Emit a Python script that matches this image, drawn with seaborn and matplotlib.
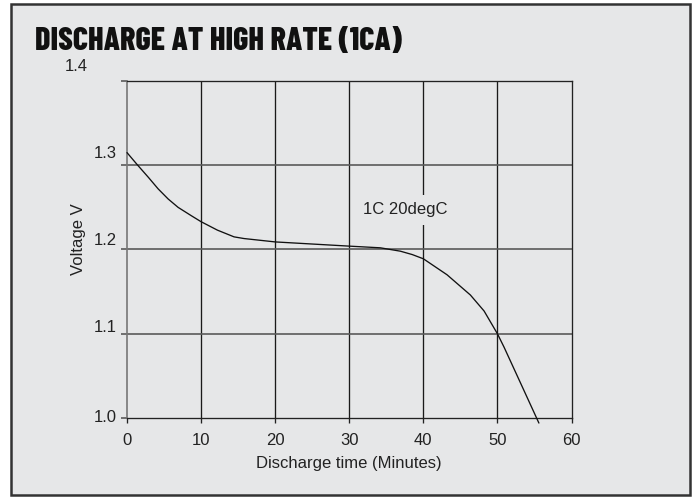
import matplotlib
matplotlib.use("Agg")
import matplotlib.pyplot as plt
import matplotlib.transforms as mtransforms
from matplotlib.patches import Rectangle
import seaborn as sns
import pandas as pd

# discharge curve
time_min = [0, 1.35, 2.9, 4.2, 5.55, 6.9, 8.7, 10.0, 12.2, 14.45, 15.8, 20, 26, 30, 34.2, 36.9,
            38.5, 40, 43.2, 46.35, 48.2, 50, 50.9, 53.2, 55.6]
voltage = [1.315, 1.301, 1.2855, 1.272, 1.260, 1.250, 1.240, 1.233, 1.223, 1.215, 1.213, 1.209,
           1.206, 1.204, 1.202, 1.198, 1.194, 1.189, 1.170, 1.146, 1.127, 1.100, 1.084, 1.040, 0.994]
x_ticks = [0, 10, 20, 30, 40, 50, 60]
y_ticks = [1.0, 1.1, 1.2, 1.3, 1.4]
y_tick_labels = ["1.0", "1.1", "1.2", "1.3", "1.4"]

df = pd.DataFrame({"time": time_min, "volt": voltage})

sns.set_theme(style="white")
plt.rcParams['font.family'] = ['Liberation Sans', 'DejaVu Sans']

panel = "#e6e7e8"
fig = plt.figure(figsize=(6.98, 4.99), dpi=100)
fig.patch.set_facecolor("white")
fig.patches.append(Rectangle((11 / 698, 4 / 499), 679 / 698, 491 / 499, transform=fig.transFigure,
                             facecolor=panel, edgecolor="#333333", linewidth=1.8, zorder=-10))

ax = fig.add_axes([127 / 698, 1 - 418 / 499, 444.5 / 698, 337 / 499])
ax.set_facecolor(panel)

sns.lineplot(data=df, x="time", y="volt", ax=ax, color="#111111", linewidth=0.95,
             clip_on=False, zorder=5, sort=False)

ax.set_xlim(0, 60)
ax.set_ylim(1.0, 1.4)
ax.set_xticks(x_ticks)
ax.set_yticks(y_ticks)
ax.set_yticklabels(y_tick_labels)

for x in x_ticks[1:-1]:
    ax.axvline(x, color="#1a1a1a", linewidth=0.95, zorder=1)
for y in y_ticks[1:-1]:
    ax.axhline(y, color="#5a5a5a", linewidth=1.2, zorder=1)

for side in ["top", "right", "bottom"]:
    ax.spines[side].set_color("#222222")
    ax.spines[side].set_linewidth(0.95)
ax.spines["left"].set_color("#777777")
ax.spines["left"].set_linewidth(1.2)

ax.tick_params(axis="x", direction="out", length=3.6, width=0.95, color="#222222",
               labelsize=12, labelcolor="#222222", pad=7, bottom=True)
ax.tick_params(axis="y", direction="out", length=4.3, width=1.2, color="#5a5a5a",
               labelsize=12, labelcolor="#222222", pad=3, left=True)

# y tick labels sit above their lines in the original
offsets = [(0, 2), (0, 7.7), (0, 10.7), (0, 13.4), (-29, 16)]
for lab, (dx, dy) in zip(ax.get_yticklabels(), offsets):
    lab.set_transform(lab.get_transform() + mtransforms.ScaledTranslation(dx / 100, dy / 100, fig.dpi_scale_trans))

ax.set_xlabel("Discharge time (Minutes)", fontsize=12, color="#222222", labelpad=6)
ax.set_ylabel("")
fig.text(78 / 698, 1 - 239 / 499, "Voltage V", rotation=90, fontsize=12, color="#222222",
         ha="center", va="center")

ax.text(37.6, 1.247, "1C 20degC", fontsize=12, color="#222222", ha="center", va="center", zorder=3,
        bbox=dict(boxstyle="square,pad=0.45", facecolor=panel, edgecolor="none"))

title = fig.text(35 / 698, 1 - 50 / 499, "DISCHARGE AT HIGH RATE (1CA)", fontsize=22,
                 fontweight=800, family=["Barlow Condensed", "DejaVu Sans"], color="#111111",
                 ha="left", va="baseline")
# fit the title to its width in the original (about 367 px)
r = fig.canvas.get_renderer()
w = title.get_window_extent(r).width
title.set_fontsize(22 * 367 / w)

fig.savefig("out.png", dpi=100, facecolor=fig.get_facecolor())
